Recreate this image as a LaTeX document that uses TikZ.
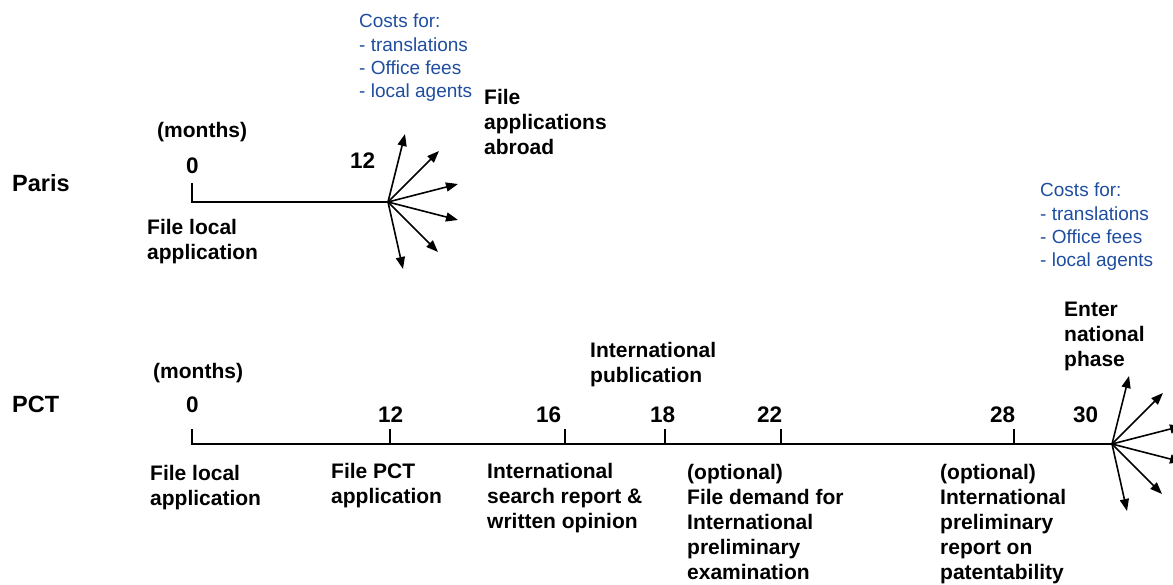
\documentclass[tikz,border=0pt]{standalone}
\usepackage{fontspec}
\setmainfont{Liberation Sans}
\usetikzlibrary{arrows.meta}
\definecolor{costblue}{RGB}{31,78,160}
\begin{document}
\begin{tikzpicture}[x=1pt,y=-1pt,
  lbl/.style={font=\bfseries\fontsize{21}{25}\selectfont, inner sep=0pt, anchor=north west, align=left},
  rowlbl/.style={font=\bfseries\fontsize{23.5}{28}\selectfont, inner sep=0pt, anchor=north west},
  num/.style={font=\bfseries\fontsize{22.5}{25}\selectfont, inner sep=0pt, anchor=north west},
  cost/.style={font=\fontsize{19}{23.3}\selectfont, text=costblue, inner sep=0pt, anchor=north west, align=left},
  axis/.style={line width=1.8pt},
  fanarrow/.style={line width=1.6pt, -{Triangle[length=12pt,width=9pt]}},
]
\useasboundingbox (0,0) rectangle (1173,585);
\clip (0,0) rectangle (1173,585);

% ---------- Paris ----------
\node[rowlbl] (paris) at (12,174) {Paris};
\node[lbl] (pmonths) at (157,122) {(months)};
\node[num] (p0) at (186,158) {0};
\node[num] (p12) at (350,153) {12};
\node[lbl] (pabroad) at (484,89) {File\\applications\\abroad};
\node[cost] (pcost) at (359,14) {Costs for:\\- translations\\- Office fees\\- local agents};
\node[lbl] (plocal) at (147,219) {File local\\application};

\coordinate (pt0) at (192,183);
\coordinate (pc0) at (192,202);
\coordinate (pfan) at (388,202);
\draw[axis] (pt0) -- (pc0) -- (pfan);
\foreach \dx/\dy [count=\i] in {17/-68,51/-51,70/-18,70/18,50/50,15/67}{
  \draw[fanarrow] (pfan) -- ++(\dx,\dy) coordinate (pfe\i);
}

% ---------- PCT ----------
\node[rowlbl] (pct) at (12,396) {PCT};
\node[lbl] (cmonths) at (153,363) {(months)};
\node[num] (c0) at (186,397) {0};
\node[num] (c12) at (378,407) {12};
\node[num] (c16) at (536,407) {16};
\node[num] (c18) at (650,407) {18};
\node[num] (c22) at (757,407) {22};
\node[num] (c28) at (990,407) {28};
\node[num] (c30) at (1073,407) {30};

\node[lbl] (cpub) at (590,342) {International\\publication};
\node[lbl] (center) at (1064,302) {Enter\\national\\phase};
\node[cost] (ccost) at (1040,183) {Costs for:\\- translations\\- Office fees\\- local agents};

\node[lbl] (clocal) at (150,465) {File local\\application};
\node[lbl] (cfile) at (331,463) {File PCT\\application};
\node[lbl] (csearch) at (487,463) {International\\search report \&\\written opinion};
\node[lbl] (cdemand) at (687,464) {(optional)\\File demand for\\International\\preliminary\\examination};
\node[lbl] (creport) at (940,464) {(optional)\\International\\preliminary\\report on\\patentability};

\coordinate (ct0) at (192,429);
\coordinate (cc0) at (192,444);
\coordinate (cfan) at (1112,444);
\draw[axis] (ct0) -- (cc0) -- (cfan);
\foreach \x [count=\i] in {390,565,665,781,1014}{
  \coordinate (tk\i a) at (\x,429);
  \coordinate (tk\i b) at (\x,444);
  \draw[axis] (tk\i a) -- (tk\i b);
}
\foreach \dx/\dy [count=\i] in {17/-68,51/-51,70/-18,70/18,50/50,15/67}{
  \draw[fanarrow] (cfan) -- ++(\dx,\dy) coordinate (cfe\i);
}
\end{tikzpicture}
\end{document}
